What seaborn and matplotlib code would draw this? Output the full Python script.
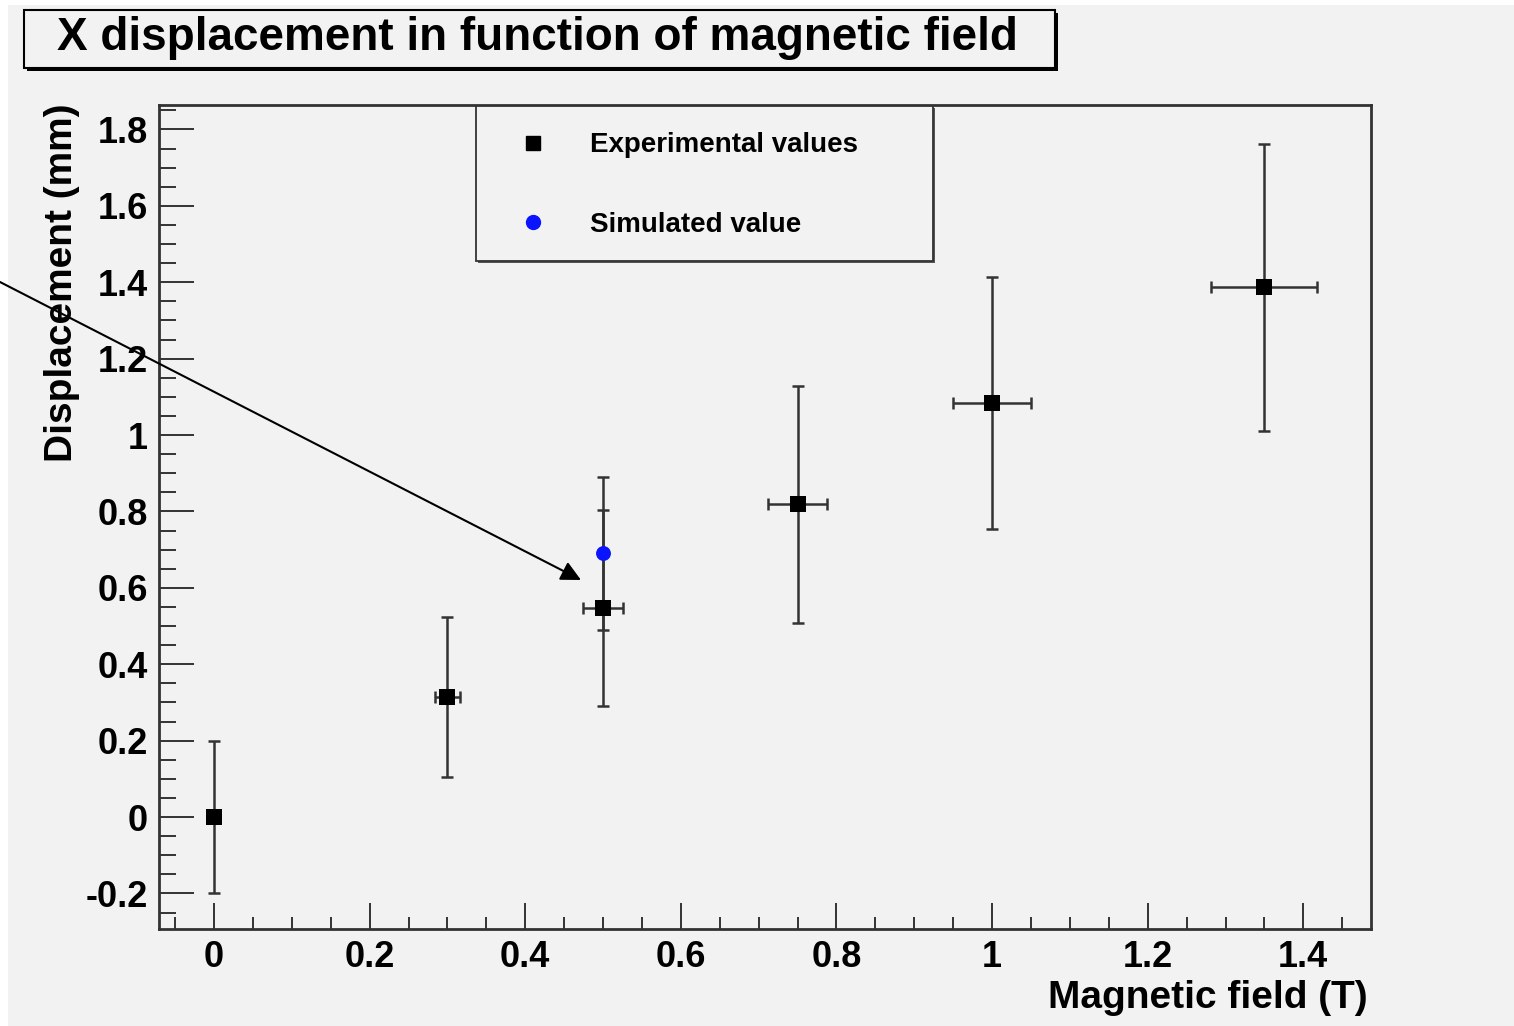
import matplotlib
matplotlib.use("Agg")
import matplotlib.pyplot as plt
import matplotlib.patches as mpatches
from matplotlib.lines import Line2D
from matplotlib.ticker import MultipleLocator, FuncFormatter
import seaborn as sns
import pandas as pd

# ---------------- data ----------------
field = [0.0, 0.3, 0.5, 0.75, 1.0, 1.35]
displacement = [0.0, 0.315, 0.547, 0.819, 1.084, 1.387]
displacement_err = [0.198, 0.21, 0.256, 0.31, 0.33, 0.376]
field_err = [0.0, 0.016, 0.026, 0.038, 0.05, 0.068]

sim_field = [0.5]
sim_displacement = [0.69]
sim_displacement_err = [0.2]

title_text = "X displacement in function of magnetic field"
xlabel_text = "Magnetic field (T)"
ylabel_text = "Displacement (mm)"
legend_labels = ["Experimental values", "Simulated value"]

# ---------------- style ----------------
sns.set_theme(style="ticks")
plt.rcParams["font.family"] = ["Liberation Sans", "DejaVu Sans"]
plt.rcParams["font.weight"] = "bold"
plt.rcParams["axes.unicode_minus"] = False
plt.rcParams["text.color"] = "black"
plt.rcParams["xtick.color"] = "black"
plt.rcParams["ytick.color"] = "black"

W, H = 1514, 1026
DPI = 100
BG = "#f2f2f2"
DARK = "#333333"

fig = plt.figure(figsize=(W / DPI, H / DPI), dpi=DPI, facecolor="white")

def fx(px):
    return px / W

def fy(py):
    return 1 - py / H

# canvas background
fig.patches.append(mpatches.Rectangle((fx(8), 0), 1 - fx(8), fy(5), transform=fig.transFigure,
                                      facecolor=BG, edgecolor="none", zorder=-10))

ax = fig.add_axes([fx(159), fy(929), fx(1371) - fx(159), fy(105) - fy(929)])
ax.set_zorder(1)
ax.set_facecolor(BG)

df = pd.DataFrame({"field": field, "disp": displacement})
sim_df = pd.DataFrame({"field": sim_field, "disp": sim_displacement})

# error bars
ax.errorbar(field, displacement, yerr=displacement_err, xerr=field_err, fmt="none",
            ecolor=DARK, elinewidth=1.8, capsize=4.5, capthick=1.8, zorder=2)
ax.errorbar(sim_field, sim_displacement, yerr=sim_displacement_err, fmt="none",
            ecolor=DARK, elinewidth=1.8, capsize=4.5, capthick=1.8, zorder=2)

# markers
sns.scatterplot(data=df, x="field", y="disp", marker="s", s=125, color="black",
                edgecolor="black", linewidth=0, ax=ax, zorder=3, legend=False)
sns.scatterplot(data=sim_df, x="field", y="disp", marker="o", s=115, color="#0a14ff",
                edgecolor="#0a14ff", linewidth=0, ax=ax, zorder=3, legend=False)

ax.set_xlim(-0.0707, 1.487)
ax.set_ylim(-0.293, 1.864)
ax.set_xlabel("")
ax.set_ylabel("")

ax.xaxis.set_major_locator(MultipleLocator(0.2))
ax.xaxis.set_minor_locator(MultipleLocator(0.05))
ax.yaxis.set_major_locator(MultipleLocator(0.2))
ax.yaxis.set_minor_locator(MultipleLocator(0.05))
fmt = FuncFormatter(lambda v, p: ("%g" % round(v, 3)))
ax.xaxis.set_major_formatter(fmt)
ax.yaxis.set_major_formatter(fmt)

ax.tick_params(axis="x", which="major", direction="in", length=18.7, width=1.4, color=DARK,
               labelsize=26, pad=8, top=False, labelcolor="black")
ax.tick_params(axis="x", which="minor", direction="in", length=8.6, width=1.4, color=DARK, top=False)
ax.tick_params(axis="y", which="major", direction="in", length=25, width=1.4, color=DARK,
               labelsize=26, pad=8, right=False, labelcolor="black")
ax.tick_params(axis="y", which="minor", direction="in", length=12, width=1.4, color=DARK, right=False)
for lab in ax.get_xticklabels() + ax.get_yticklabels():
    lab.set_fontweight("bold")

for s in ax.spines.values():
    s.set_visible(True)
    s.set_color(DARK)
    s.set_linewidth(2.0)

# axis labels (ROOT style: at the end of the axes)
fig.text(fx(1368), fy(1008), xlabel_text, ha="right", va="baseline", fontsize=28,
         fontweight="bold", color="black")
fig.text(fx(62), fy(103), ylabel_text, ha="center", va="top", rotation=90, fontsize=28,
         fontweight="bold", color="black")

# title box with shadow
fig.patches.append(mpatches.Rectangle((fx(27), fy(71)), fx(1058) - fx(27), fy(13) - fy(71),
                                      transform=fig.transFigure, facecolor="black",
                                      edgecolor="none", zorder=5))
fig.patches.append(mpatches.Rectangle((fx(24), fy(68)), fx(1055) - fx(24), fy(10) - fy(68),
                                      transform=fig.transFigure, facecolor=BG,
                                      edgecolor="black", linewidth=1.5, zorder=6))
fig.text(fx(537), fy(50), title_text, ha="center", va="baseline", fontsize=33,
         fontweight="bold", color="black", zorder=7)

# legend box
fig.patches.append(mpatches.Rectangle((fx(478), fy(263)), fx(935) - fx(478), fy(108) - fy(263),
                                      transform=fig.transFigure, facecolor="#555555",
                                      edgecolor="none", zorder=4))
fig.patches.append(mpatches.Rectangle((fx(476), fy(261)), fx(933) - fx(476), fy(106) - fy(261),
                                      transform=fig.transFigure, facecolor=BG,
                                      edgecolor=DARK, linewidth=1.3, zorder=4))
handles = [Line2D([], [], marker="s", ls="", color="black", markersize=10.5),
           Line2D([], [], marker="o", ls="", color="#0a14ff", markersize=10)]
leg = fig.legend(handles, legend_labels, loc="upper left",
                 bbox_to_anchor=(fx(519), fy(132.5)), bbox_transform=fig.transFigure,
                 frameon=False, borderpad=0, borderaxespad=0, handlelength=1.0,
                 handletextpad=1.55, labelspacing=1.91,
                 prop={"size": 20, "weight": "bold"})
leg.set_zorder(8)
for t in leg.get_texts():
    t.set_color("black")

# arrow annotation
arrow = ax.annotate("", xy=(fx(581), fy(580)), xytext=(fx(0), fy(282)),
                    xycoords="figure fraction", textcoords="figure fraction",
                    arrowprops=dict(arrowstyle="-|>,head_length=0.8,head_width=0.4",
                                    lw=1.5, color="black", shrinkA=0, shrinkB=0,
                                    mutation_scale=15),
                    annotation_clip=False, zorder=9)

fig.savefig("out.png", dpi=DPI, facecolor=fig.get_facecolor())
